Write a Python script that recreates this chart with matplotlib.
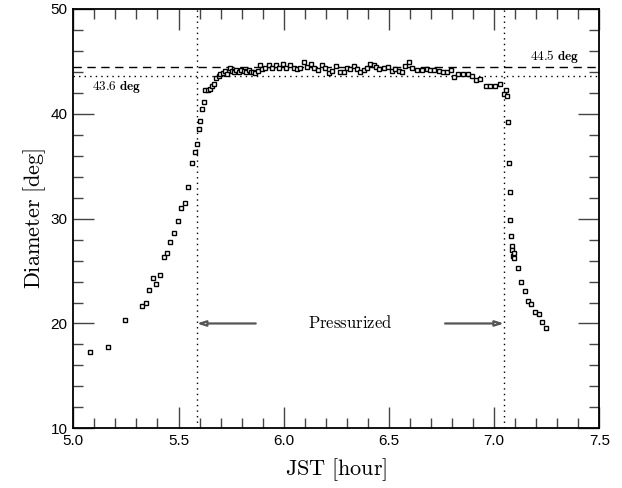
import matplotlib
matplotlib.use("Agg")
import matplotlib.pyplot as plt
from matplotlib.ticker import MultipleLocator

plt.rcParams['mathtext.fontset'] = 'cm'

# Data
jst = [5.081, 5.163, 5.247, 5.328, 5.347, 5.361, 5.379, 5.394, 5.410, 5.429,
       5.445, 5.461, 5.480, 5.496, 5.513, 5.529, 5.545, 5.562, 5.578, 5.588,
       5.596, 5.604, 5.612, 5.620, 5.628, 5.638, 5.648, 5.659, 5.667, 5.680,
       5.691, 5.699, 5.711, 5.722, 5.730, 5.743, 5.754, 5.762, 5.775, 5.786,
       5.797, 5.810, 5.822, 5.833, 5.845, 5.854, 5.865, 5.876, 5.886, 5.897,
       5.913, 5.928, 5.944, 5.963, 5.980, 5.997, 6.012, 6.030, 6.047, 6.063,
       6.079, 6.095, 6.110, 6.130, 6.145, 6.161, 6.182, 6.198, 6.213, 6.230,
       6.250, 6.266, 6.285, 6.300, 6.317, 6.332, 6.348, 6.364, 6.380, 6.396,
       6.412, 6.427, 6.440, 6.455, 6.475, 6.494, 6.515, 6.530, 6.546, 6.562,
       6.578, 6.594, 6.610, 6.633, 6.657, 6.681, 6.697, 6.716, 6.736, 6.757,
       6.776, 6.797, 6.810, 6.830, 6.852, 6.874, 6.895, 6.916, 6.934, 6.963,
       6.982, 7.006, 7.030, 7.045, 7.058, 7.061, 7.066, 7.071, 7.074, 7.077,
       7.080, 7.083, 7.085, 7.090, 7.093, 7.095, 7.112, 7.128, 7.145, 7.161,
       7.177, 7.196, 7.212, 7.229, 7.245]
diameter = [17.3, 17.8, 20.3, 21.7, 22.0, 23.2, 24.3, 23.75, 24.6, 26.3,
            26.7, 27.8, 28.65, 29.8, 31.0, 31.5, 33.0, 35.3, 36.4, 37.1,
            38.6, 39.3, 40.5, 41.1, 42.3, 42.3, 42.4, 42.7, 42.85, 43.4,
            43.65, 43.8, 43.9, 44.1, 43.8, 44.4, 44.1, 44.0, 44.2, 44.0,
            44.2, 44.05, 44.0, 44.2, 43.95, 44.0, 43.9, 44.1, 44.65, 44.25,
            44.4, 44.7, 44.4, 44.7, 44.4, 44.75, 44.35, 44.65, 44.35, 44.25,
            44.4, 44.9, 44.5, 44.75, 44.4, 44.2, 44.7, 44.4, 43.9, 44.1,
            44.6, 43.95, 43.95, 44.4, 44.25, 44.6, 44.3, 43.95, 44.2, 44.4,
            44.8, 44.7, 44.45, 44.3, 44.4, 44.5, 44.1, 44.25, 44.1, 43.95,
            44.55, 44.9, 44.4, 44.2, 44.2, 44.25, 44.2, 44.2, 44.05, 44.0,
            44.0, 44.2, 43.5, 43.8, 43.8, 43.8, 43.6, 43.25, 43.35, 42.7,
            42.7, 42.7, 42.8, 41.9, 42.3, 41.7, 39.2, 35.3, 32.5, 29.9,
            28.3, 27.4, 27.0, 26.45, 26.7, 26.2, 25.25, 24.0, 23.1, 22.1,
            21.9, 21.1, 20.9, 20.1, 19.6]

level_max = 44.5
level_mean = 43.6
t_start = 5.587
t_end = 7.047
arrow_level = 20.0
arrow_len = 0.28

xticks = [5.0, 5.5, 6.0, 6.5, 7.0, 7.5]
yticks = [10, 20, 30, 40, 50]

fig = plt.figure(figsize=(6.22, 4.88), dpi=100)
ax = fig.add_axes([73.3 / 622, 1 - 428.3 / 488, (599.3 - 73.3) / 622, (428.3 - 9) / 488])

ax.plot(jst, diameter, linestyle='none', marker='s', markersize=3.2,
        markerfacecolor='white', markeredgecolor='black', markeredgewidth=1.0, zorder=3)

ax.axhline(level_max, color='black', linestyle=(0, (6, 4)), linewidth=1.0)
ax.axhline(level_mean, color='black', linestyle=(0, (1, 3)), linewidth=1.0)
ax.axvline(t_start, color='black', linestyle=(0, (1, 3)), linewidth=1.0)
ax.axvline(t_end, color='black', linestyle=(0, (1, 3)), linewidth=1.0)

ax.text(7.405, level_max + 0.15, r'$\mathbf{%.1f\ deg}$' % level_max,
        ha='right', va='bottom', fontsize=9.5)
ax.text(5.087, level_mean - 0.25, r'$\mathbf{%.1f\ deg}$' % level_mean,
        ha='left', va='top', fontsize=9.5)

arrowprops = dict(arrowstyle='-|>,head_length=0.5,head_width=0.16',
                  ec='#555555', fc='white', lw=1.6, shrinkA=0, shrinkB=0)
ax.annotate('', xy=(t_start, arrow_level), xytext=(t_start + arrow_len, arrow_level),
            arrowprops=arrowprops)
ax.annotate('', xy=(t_end, arrow_level), xytext=(t_end - arrow_len, arrow_level),
            arrowprops=arrowprops)
ax.text((t_start + t_end) / 2, arrow_level, r'$\mathrm{Pressurized}$',
        ha='center', va='center', fontsize=12)

ax.set_xlim(5.0, 7.5)
ax.set_ylim(10, 50)
ax.set_xticks(xticks)
ax.set_yticks(yticks)
ax.set_xticklabels(['%.1f' % v for v in xticks], fontfamily='Liberation Sans', fontsize=11)
ax.set_yticklabels(['%d' % v for v in yticks], fontfamily='Liberation Sans', fontsize=11)
ax.xaxis.set_minor_locator(MultipleLocator(0.1))
ax.yaxis.set_minor_locator(MultipleLocator(2))
ax.tick_params(which='both', direction='in', top=True, right=True, color='#444444', width=1.0)
ax.tick_params(which='major', length=15, pad=4)
ax.tick_params(which='minor', length=7)
for s in ax.spines.values():
    s.set_linewidth(1.3)

ax.set_xlabel(r'$\mathrm{JST\ [hour]}$', fontsize=16, labelpad=6)
ax.set_ylabel(r'$\mathrm{Diameter\ [deg]}$', fontsize=16, labelpad=2)

fig.savefig('out.png', dpi=100)
